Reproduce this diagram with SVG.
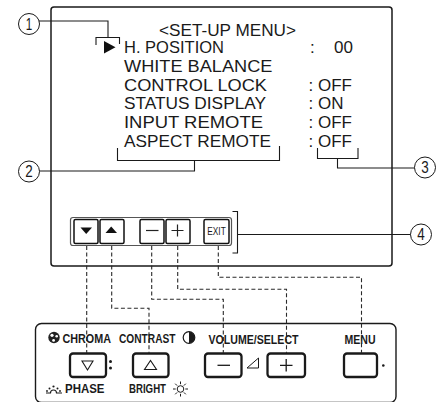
<svg xmlns="http://www.w3.org/2000/svg" width="441" height="402" viewBox="0 0 441 402">
<style>
.ln{fill:none;stroke:#1a1a1a;stroke-width:1.1}
.dash{fill:none;stroke:#2a2a2a;stroke-width:1.1;stroke-dasharray:4 2.5}
.circ{fill:#fff;stroke:#1a1a1a;stroke-width:1}
.num{font-family:"Liberation Sans",Arial,sans-serif;font-size:16px;fill:#1a1a1a;text-anchor:middle}
.menu{font-family:"Liberation Sans",Arial,sans-serif;font-size:17px;fill:#1a1a1a}
.lbl{font-family:"Liberation Sans",Arial,sans-serif;font-size:12px;font-weight:bold;fill:#1a1a1a}
.sbtn{fill:#fff;stroke:#111;stroke-width:1.5}
.pbtn{fill:#fff;stroke:#1a1a1a;stroke-width:2.3}
</style>
<rect width="441" height="402" fill="#fff"/>

<g id="screen">
<rect x="51" y="7" width="341" height="259" rx="3" fill="#fff" stroke="#1a1a1a" stroke-width="1.5"/>
<text class="menu" x="159" y="35.5" textLength="137" lengthAdjust="spacingAndGlyphs">&lt;SET-UP MENU&gt;</text>
<polygon points="104,41 115.5,47.3 104,53.6" fill="#111"/>
<text class="menu" x="124" y="53" textLength="100" lengthAdjust="spacingAndGlyphs">H. POSITION</text>
<text class="menu" x="124" y="71.8" textLength="148.5" lengthAdjust="spacingAndGlyphs">WHITE BALANCE</text>
<text class="menu" x="124" y="90.6" textLength="143" lengthAdjust="spacingAndGlyphs">CONTROL LOCK</text>
<text class="menu" x="124" y="109.4" textLength="142" lengthAdjust="spacingAndGlyphs">STATUS DISPLAY</text>
<text class="menu" x="124" y="128.2" textLength="139" lengthAdjust="spacingAndGlyphs">INPUT REMOTE</text>
<text class="menu" x="124" y="147" textLength="147" lengthAdjust="spacingAndGlyphs">ASPECT REMOTE</text>
<text class="menu" x="310" y="53">:</text>
<text class="menu" x="334" y="53">00</text>
<text class="menu" x="308.5" y="90.6">: OFF</text>
<text class="menu" x="308.5" y="109.4">: ON</text>
<text class="menu" x="308.5" y="128.2">: OFF</text>
<text class="menu" x="308.5" y="147">: OFF</text>
</g>

<g id="button-bar">
<rect x="70.5" y="217.5" width="161" height="28" rx="2.5" fill="#fff" stroke="#555" stroke-width="1.2"/>
<rect class="sbtn" x="74" y="219.5" width="24" height="24" rx="1.5"/>
<polygon points="80.5,227.5 92,227.5 86.2,234" fill="#111"/>
<rect class="sbtn" x="100" y="219.5" width="24" height="24" rx="1.5"/>
<polygon points="105.5,233 117,233 111.2,226.5" fill="#111"/>
<rect class="sbtn" x="140" y="219.5" width="24" height="24" rx="1.5"/>
<line x1="146" y1="230.5" x2="158.5" y2="230.5" stroke="#222" stroke-width="1.2"/>
<rect class="sbtn" x="166" y="219.5" width="24" height="24" rx="1.5"/>
<path d="M171.5,230.5 H183.5 M177.5,224.5 V236.5" stroke="#222" stroke-width="1.2" fill="none"/>
<rect class="sbtn" x="204" y="219.5" width="25" height="24" rx="1.5"/>
<text x="216.5" y="235" font-family="'Liberation Sans',Arial,sans-serif" font-size="11" fill="#1a1a1a" text-anchor="middle" textLength="18.5" lengthAdjust="spacingAndGlyphs">EXIT</text>
</g>

<g id="panel">
<rect x="35.5" y="323.5" width="360.5" height="79" rx="6" fill="#fff" stroke="#1a1a1a" stroke-width="1.4"/>
<circle cx="54" cy="337.5" r="5.7" fill="#222"/>
<circle cx="52" cy="335.3" r="1.6" fill="#fff"/>
<circle cx="56.7" cy="336.3" r="1.3" fill="#fff"/>
<circle cx="53.6" cy="340.4" r="1.4" fill="#fff"/>
<text class="lbl" x="62.5" y="343" textLength="48.5" lengthAdjust="spacingAndGlyphs">CHROMA</text>
<text class="lbl" x="119" y="343" textLength="56.5" lengthAdjust="spacingAndGlyphs">CONTRAST</text>
<circle cx="189" cy="337.5" r="5.8" fill="#fff" stroke="#1a1a1a" stroke-width="1.2"/>
<path d="M189,331.7 A5.8,5.8 0 0 1 189,343.3 Z" fill="#1a1a1a"/>
<text class="lbl" x="208.5" y="343.5" textLength="90" lengthAdjust="spacingAndGlyphs">VOLUME/SELECT</text>
<text class="lbl" x="344.5" y="343.5" textLength="31" lengthAdjust="spacingAndGlyphs">MENU</text>

<rect class="pbtn" x="70" y="353.5" width="36" height="23.5" rx="3"/>
<polygon points="82,361 93,361 87.5,370" fill="none" stroke="#1a1a1a" stroke-width="1.1"/>
<circle cx="110.5" cy="361.5" r="1.5" fill="#1a1a1a"/>
<circle cx="110.5" cy="368" r="1.5" fill="#1a1a1a"/>
<rect class="pbtn" x="133" y="353.5" width="35.5" height="23.5" rx="3"/>
<polygon points="144.5,369.5 156.5,369.5 150.5,360.5" fill="none" stroke="#1a1a1a" stroke-width="1.1"/>
<rect class="pbtn" x="205" y="353.5" width="36.5" height="23.5" rx="3"/>
<line x1="217.5" y1="365.3" x2="230" y2="365.3" stroke="#1a1a1a" stroke-width="1.3"/>
<polygon points="247,368 258.5,368 258.5,358" fill="none" stroke="#1a1a1a" stroke-width="1"/>
<rect class="pbtn" x="267.5" y="353.5" width="37.5" height="23.5" rx="3"/>
<path d="M280,365.3 H292.5 M286.2,359 V371.5" stroke="#1a1a1a" stroke-width="1.3" fill="none"/>
<rect class="pbtn" x="344" y="353.5" width="33" height="23.5" rx="3"/>
<circle cx="383.3" cy="365.5" r="1.3" fill="#1a1a1a"/>

<path d="M46,393 H50.5 A3,3 0 0 1 56.5,393 H62" fill="none" stroke="#1a1a1a" stroke-width="1.1"/>
<circle cx="53.5" cy="386.5" r="1.1" fill="#1a1a1a"/>
<circle cx="49.5" cy="388.5" r="1" fill="#1a1a1a"/>
<circle cx="57.5" cy="388.5" r="1" fill="#1a1a1a"/>
<circle cx="47" cy="391" r="0.9" fill="#1a1a1a"/>
<circle cx="60" cy="391" r="0.9" fill="#1a1a1a"/>
<text class="lbl" x="65" y="393.3" textLength="39.5" lengthAdjust="spacingAndGlyphs">PHASE</text>
<text class="lbl" x="129" y="393.3" textLength="37" lengthAdjust="spacingAndGlyphs">BRIGHT</text>
<circle cx="180.5" cy="389" r="3.3" fill="#fff" stroke="#1a1a1a" stroke-width="1"/>
<path d="M180.5,384.2 V381.5 M180.5,393.8 V396.5 M175.7,389 H173 M185.3,389 H188 M177.1,385.6 L175.2,383.7 M183.9,392.4 L185.8,394.3 M183.9,385.6 L185.8,383.7 M177.1,392.4 L175.2,394.3" stroke="#1a1a1a" stroke-width="1" fill="none"/>
</g>

<g id="callout-1">
<circle class="circ" cx="29" cy="24" r="10.5"/>
<text class="num" x="29" y="29.8" textLength="6.5" lengthAdjust="spacingAndGlyphs">1</text>
</g>
<g id="callout-2">
<circle class="circ" cx="29" cy="171.5" r="10.5"/>
<text class="num" x="29" y="177.3" textLength="7.5" lengthAdjust="spacingAndGlyphs">2</text>
</g>
<g id="callout-3">
<circle class="circ" cx="425" cy="167.5" r="10.5"/>
<text class="num" x="425" y="173.3" textLength="7.5" lengthAdjust="spacingAndGlyphs">3</text>
</g>
<g id="callout-4">
<circle class="circ" cx="421" cy="234.5" r="10.5"/>
<text class="num" x="421" y="240.3" textLength="7.5" lengthAdjust="spacingAndGlyphs">4</text>
</g>

<g id="connectors">
<path class="ln" d="M39,21 H108 V37.5 M96,45 V37.5 H119.5 V44"/>
<path class="ln" d="M117.5,148 V160.5 H279.5 V146 M194.5,160.5 V171 H39.5"/>
<path class="ln" d="M317.5,148 V158.5 H358 V148 M337.5,158.5 V168 H414.5"/>
<path class="ln" d="M232.5,211.5 H237.5 V253 H232.5 M237.5,234.5 H410.5"/>
<path class="dash" d="M86.7,246 V353"/>
<path class="dash" d="M111.7,246 V308.3 H149 V353"/>
<path class="dash" d="M151.7,246 V299.3 H223.3 V353"/>
<path class="dash" d="M177.7,246 V289.3 H286.5 V353"/>
<path class="dash" d="M218.3,246 V277.3 H361.5 V353"/>
</g>
</svg>
